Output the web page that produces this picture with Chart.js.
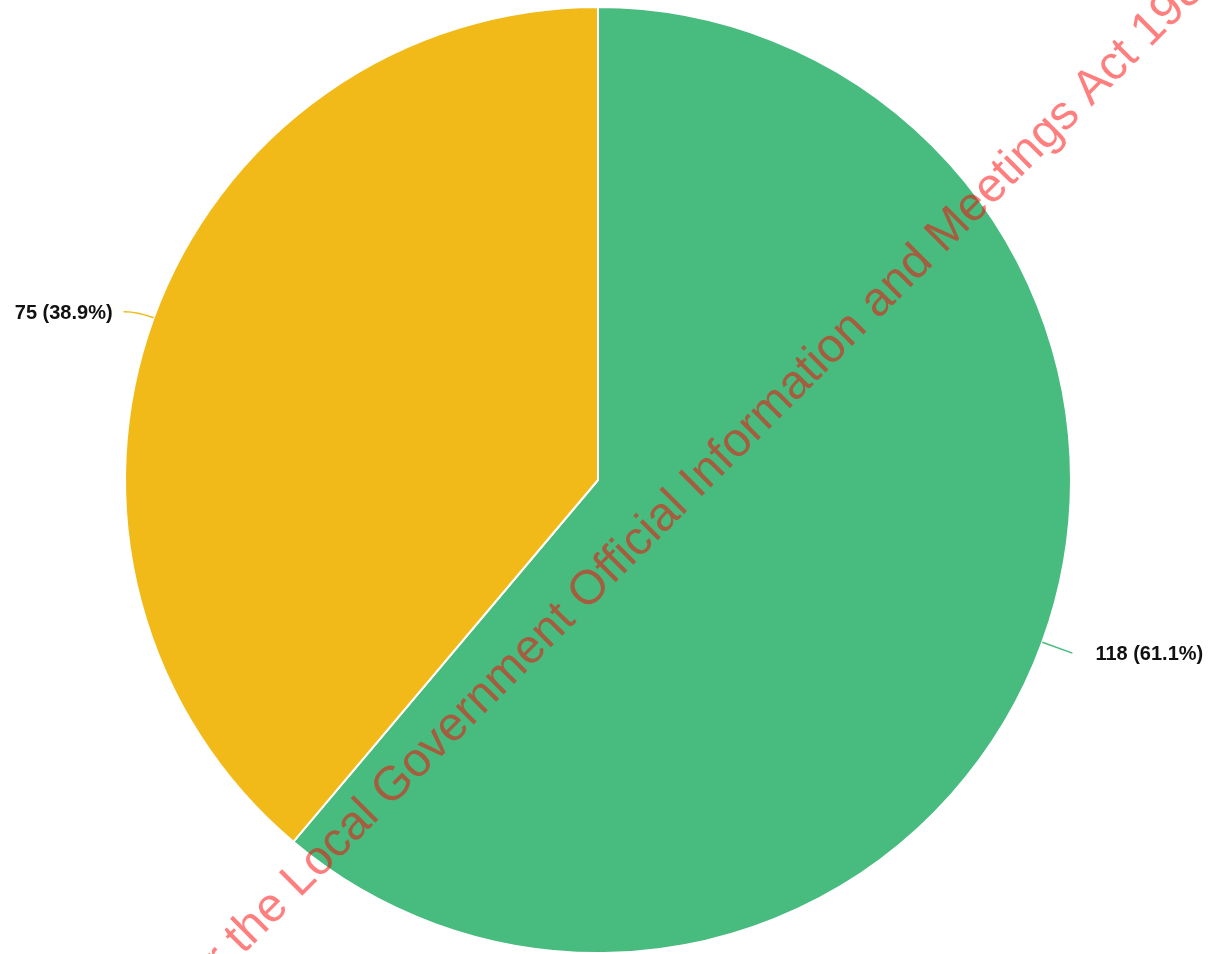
<!DOCTYPE html>
<html>
<head>
<meta charset="utf-8">
<title>Pie chart</title>
<script src="https://cdn.jsdelivr.net/npm/chart.js@4/dist/chart.umd.min.js"></script>
<style>
  html, body { margin: 0; padding: 0; background: #ffffff; }
  #wrap { width: 1219px; height: 954px; position: relative; }
</style>
</head>
<body>
<div id="wrap"><canvas id="chart"></canvas></div>
<script>
// Slice data
const categories = ['Yes', 'No'];
const counts = [118, 75];
const sliceColors = ['#48BB7E', '#F2BA19'];
const watermarkText = 'Released under the Local Government Official Information and Meetings Act 1987';

const total = counts.reduce((a, b) => a + b, 0);

// Value labels outside each slice with a short leader line
const outLabels = {
  id: 'outLabels',
  afterDatasetsDraw(chart) {
    const ctx = chart.ctx;
    const meta = chart.getDatasetMeta(0);
    ctx.save();
    ctx.font = 'bold 20px "Liberation Sans", Arial, sans-serif';
    ctx.textBaseline = 'middle';
    meta.data.forEach((arc, i) => {
      const p = arc.getProps(['x', 'y', 'startAngle', 'endAngle', 'outerRadius'], true);
      const mid = (p.startAngle + p.endAngle) / 2;
      const cos = Math.cos(mid), sin = Math.sin(mid);
      const sx = p.x + cos * p.outerRadius;
      const sy = p.y + sin * p.outerRadius;
      const cx = p.x + cos * (p.outerRadius + 18);
      const cy = p.y + sin * (p.outerRadius + 18);
      const ex = p.x + cos * (p.outerRadius + 32);
      const ey = p.y + sin * (p.outerRadius + 32) + (cos < 0 ? 5 : 0);
      ctx.strokeStyle = sliceColors[i];
      ctx.lineWidth = 1.5;
      ctx.beginPath();
      ctx.moveTo(sx, sy);
      ctx.quadraticCurveTo(cx, cy, ex, ey);
      ctx.stroke();
      const pct = (counts[i] / total * 100).toFixed(1);
      const txt = counts[i] + ' (' + pct + '%)';
      ctx.fillStyle = '#111111';
      if (cos < 0) {
        ctx.textAlign = 'right';
        ctx.fillText(txt, ex - 11, ey + 2);
      } else {
        ctx.textAlign = 'left';
        ctx.fillText(txt, ex + 23, ey + 1);
      }
    });
    ctx.restore();
  }
};

// Diagonal release watermark across the page
const watermark = {
  id: 'watermark',
  afterDraw(chart) {
    const ctx = chart.ctx;
    ctx.save();
    ctx.font = '48px "Liberation Sans", Arial, sans-serif';
    ctx.fillStyle = 'rgba(255, 0, 0, 0.5)';
    ctx.textBaseline = 'alphabetic';
    ctx.textAlign = 'left';
    const prefix = 'Released under the ';
    const offset = ctx.measureText(prefix).width;
    ctx.translate(299.5, 898.5);
    ctx.rotate(-45 * Math.PI / 180);
    ctx.fillText(watermarkText, -offset, 0);
    ctx.restore();
  }
};

new Chart(document.getElementById('chart'), {
  type: 'pie',
  data: {
    labels: categories,
    datasets: [{
      data: counts,
      backgroundColor: sliceColors,
      borderColor: '#ffffff',
      borderWidth: 2
    }]
  },
  options: {
    responsive: true,
    maintainAspectRatio: false,
    animation: false,
    layout: { padding: { top: 6, bottom: 0, left: 0, right: 23 } },
    plugins: {
      legend: { display: false },
      tooltip: { enabled: false }
    }
  },
  plugins: [outLabels, watermark]
});
</script>
</body>
</html>
